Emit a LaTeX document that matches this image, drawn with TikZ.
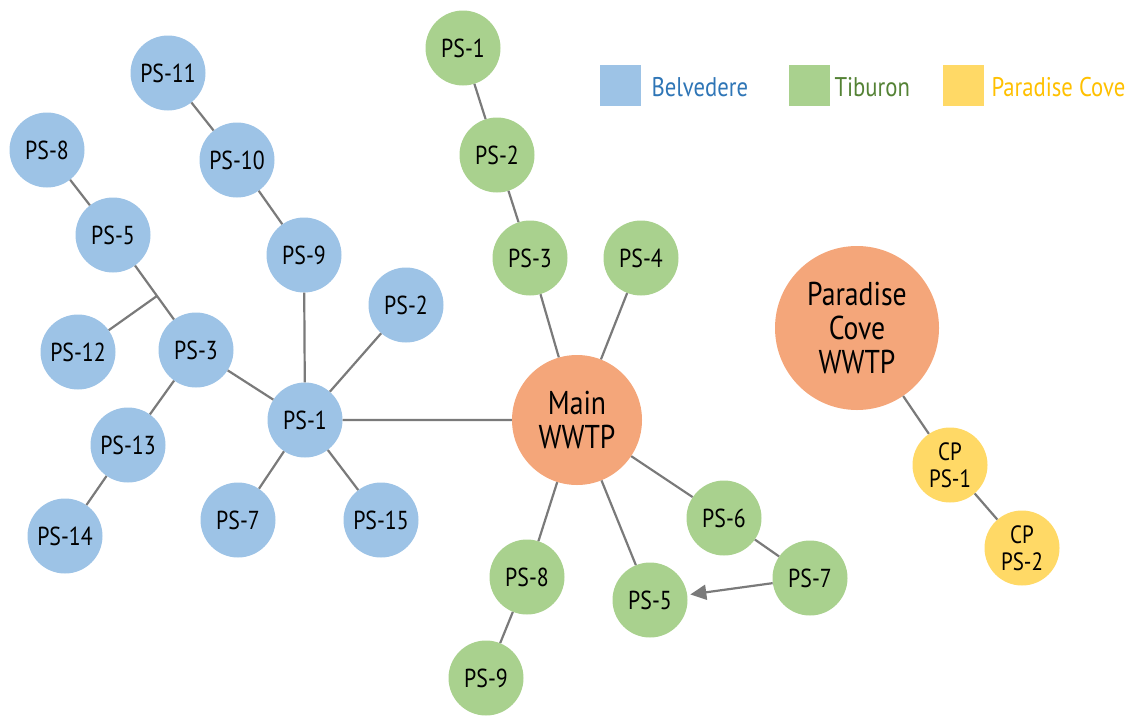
\documentclass[tikz,border=0pt]{standalone}
\usepackage{fontspec}
\setmainfont[FakeStretch=0.84]{PT Sans}
\usetikzlibrary{calc,arrows.meta}
\definecolor{bel}{HTML}{9DC3E6}
\definecolor{tib}{HTML}{A9D18E}
\definecolor{wwtp}{HTML}{F4A67A}
\definecolor{pc}{HTML}{FFD966}
\definecolor{beltxt}{HTML}{2E75B6}
\definecolor{tibtxt}{HTML}{548235}
\definecolor{pctxt}{HTML}{FFC000}
\definecolor{edge}{HTML}{7A7A7A}
\tikzset{
  st/.style={circle,inner sep=0pt,minimum size=75pt,font=\fontsize{26}{26}\selectfont,align=center},
  belv/.style={st,fill=bel},
  tibu/.style={st,fill=tib},
  cove/.style={st,fill=pc,font=\fontsize{25}{27}\selectfont},
  plant/.style={circle,inner sep=0pt,fill=wwtp,align=center,font=\fontsize{33}{34}\selectfont},
  link/.style={draw=edge,line width=2.2pt},
  legsq/.style={fill=#1,minimum size=41pt,inner sep=0pt},
  legtxt/.style={anchor=west,font=\fontsize{27}{28}\selectfont,text=#1}
}
\begin{document}
\begin{tikzpicture}[x=1pt,y=-1pt]
\useasboundingbox (0,0) rectangle (1145,715);
% Belvedere
\node[belv] (b11) at (168,73) {PS-11};
\node[belv] (b10) at (237,160) {PS-10};
\node[belv] (b8) at (47,150) {PS-8};
\node[belv] (b5) at (113,235) {PS-5};
\node[belv] (b9) at (304,255) {PS-9};
\node[belv] (b2) at (406,305) {PS-2};
\node[belv] (b12) at (78,352) {PS-12};
\node[belv] (b3) at (196,350) {PS-3};
\node[belv] (b1) at (305,420) {PS-1};
\node[belv] (b13) at (128,445) {PS-13};
\node[belv] (b14) at (65,536) {PS-14};
\node[belv] (b7) at (238,520) {PS-7};
\node[belv] (b15) at (381,520) {PS-15};
% Tiburon
\node[tibu] (t1) at (463,48) {PS-1};
\node[tibu] (t2) at (497,155) {PS-2};
\node[tibu] (t3) at (530,258) {PS-3};
\node[tibu] (t4) at (641,258) {PS-4};
\node[tibu] (t6) at (724,518) {PS-6};
\node[tibu] (t7) at (810,578) {PS-7};
\node[tibu] (t5) at (650,600) {PS-5};
\node[tibu] (t8) at (527,577) {PS-8};
\node[tibu] (t9) at (486,678) {PS-9};
% plants
\node[plant,minimum size=130pt] (main) at (577,420) {Main\\WWTP};
\node[plant,minimum size=164pt] (pcw) at (857,328) {Paradise\\Cove\\WWTP};
\node[cove] (cp1) at (950,465) {CP\\PS-1};
\node[cove] (cp2) at (1022,548) {CP\\PS-2};
% junction
\coordinate (j) at ($(b5)!0.53!(b3)$);
% edges
\path[link] (b11) -- (b10) (b10) -- (b9) (b9) -- (b1) (b2) -- (b1)
  (b8) -- (b5) (b5) -- (b3) (b12) -- (j) (b3) -- (b1) (b13) -- (b3)
  (b14) -- (b13) (b7) -- (b1) (b15) -- (b1) (b1) -- (main)
  (t1) -- (t2) (t2) -- (t3) (t3) -- (main) (t4) -- (main) (t6) -- (main)
  (t7) -- (t6) (t5) -- (main) (t8) -- (main) (t9) -- (t8)
  (pcw) -- (cp1) (cp1) -- (cp2);
\draw[link,-{Triangle[length=16pt,width=15pt]},shorten >=3pt] (t7) -- (t5);
% legend
\node[legsq=bel] (lb) at (620,85) {};
\node[legtxt=beltxt] (lbt) at (648,87) {Belvedere};
\node[legsq=tib] (lt) at (809,85) {};
\node[legtxt=tibtxt] (ltt) at (831,87) {Tiburon};
\node[legsq=pc] (lp) at (963,85) {};
\node[legtxt=pctxt] (lpt) at (988,87) {Paradise Cove};
\end{tikzpicture}
\end{document}
